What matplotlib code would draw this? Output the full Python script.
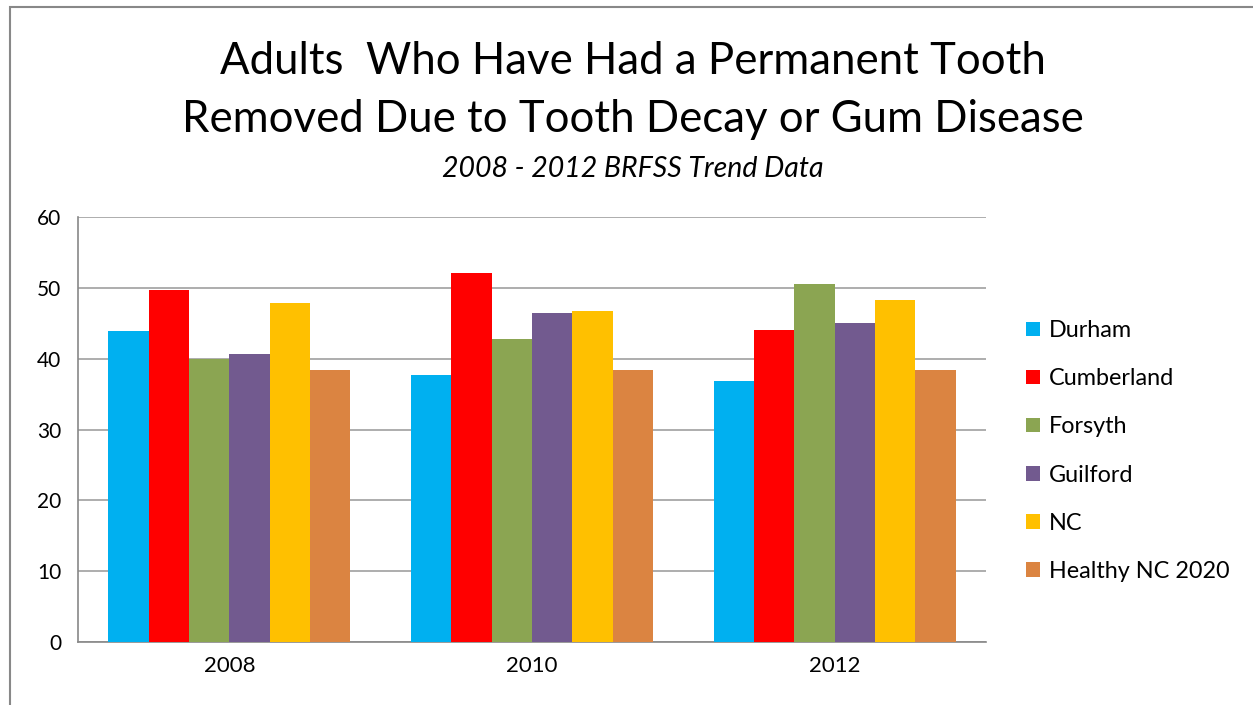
import matplotlib
matplotlib.use("Agg")
import matplotlib.pyplot as plt
import numpy as np
from matplotlib.patches import Rectangle

# data
years = ['2008', '2010', '2012']
series = ['Durham', 'Cumberland', 'Forsyth', 'Guilford', 'NC', 'Healthy NC 2020']
durham = [43.9, 37.7, 36.8]
cumberland = [49.7, 52.1, 44.1]
forsyth = [40.0, 42.8, 50.6]
guilford = [40.6, 46.5, 45.0]
nc = [47.9, 46.8, 48.3]
healthy_nc = [38.4, 38.4, 38.4]
colors = ['#00B0F0', '#FF0000', '#8BA552', '#725A8F', '#FFC000', '#DB8441']

values = [durham, cumberland, forsyth, guilford, nc, healthy_nc]

plt.rcParams['font.family'] = ['Lato', 'DejaVu Sans']

fig = plt.figure(figsize=(12.53, 7.05), dpi=100)
ax = fig.add_axes([78 / 1253, 1 - 642 / 705, (986 - 78) / 1253, (642 - 217) / 705])

x = np.arange(len(years))
n = len(series)
width = 0.8 / n
for i, (name, vals) in enumerate(zip(series, values)):
    ax.bar(x - 0.4 + width * (i + 0.5), vals, width, color=colors[i], label=name, zorder=3)

ax.set_xlim(-0.5, 2.5)
ax.set_ylim(0, 60)
ax.set_yticks(range(0, 61, 10))
ax.set_xticks(x)
ax.set_xticklabels(years)
ax.tick_params(axis='y', labelsize=15, length=0, colors='black', pad=12)
ax.tick_params(axis='x', labelsize=16, length=0, colors='black', pad=10)
ax.grid(axis='y', color='#A0A0A0', linewidth=1.2, zorder=0)
for s in ['top', 'right']:
    ax.spines[s].set_visible(False)
for s in ['left', 'bottom']:
    ax.spines[s].set_color('#888888')
    ax.spines[s].set_linewidth(1.2)

# titles
fig.text(633 / 1253, 1 - 62 / 705, 'Adults  Who Have Had a Permanent Tooth', ha='center', va='center',
         fontsize=31.5)
fig.text(633 / 1253, 1 - 119 / 705, 'Removed Due to Tooth Decay or Gum Disease', ha='center', va='center',
         fontsize=31.5)
fig.text(633 / 1253, 1 - 169 / 705, '2008 - 2012 BRFSS Trend Data', ha='center', va='center',
         fontsize=20.5, style='italic')

leg = fig.legend(loc='upper left', bbox_to_anchor=(1017 / 1253, 1 - 311 / 705), frameon=False,
                 fontsize=16.8, handlelength=0.58, handleheight=0.58, labelspacing=1.16,
                 handletextpad=0.4, borderaxespad=0)

# outer frame of the chart area (bottom edge runs off the picture)
fig.patches.append(Rectangle((10 / 1253, -0.02), 1.0, 1 - 7 / 705 + 0.02, transform=fig.transFigure,
                             fill=False, edgecolor='#888888', linewidth=1.5))

fig.savefig('out.png', dpi=100)
